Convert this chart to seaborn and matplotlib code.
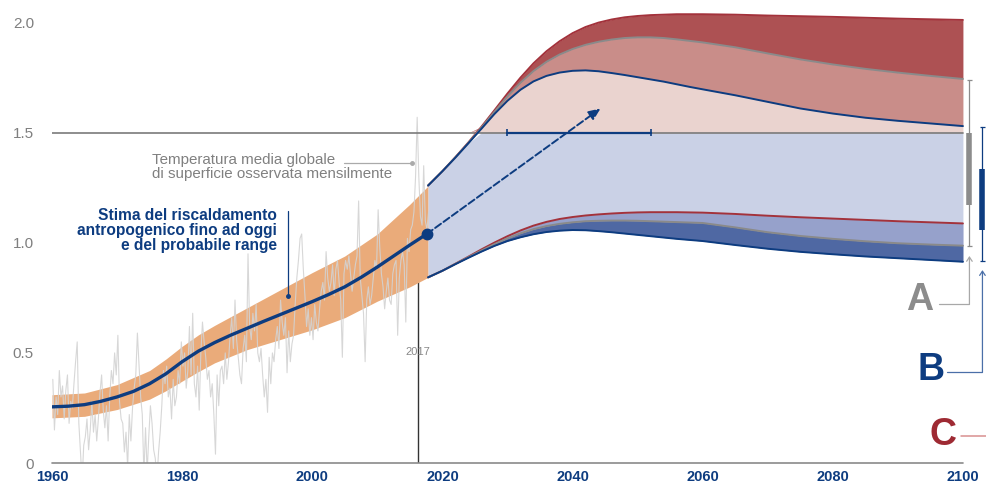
import numpy as np
import pandas as pd
import seaborn as sns
import matplotlib.pyplot as plt

sns.set_style("white")
plt.rcParams['font.family'] = ['Liberation Sans', 'DejaVu Sans']

navy = "#0d3c80"
grey_txt = "#7f7f7f"

# observed monthly GMST (read every 3 months), 1960-2017
obs_vals = [
    0.38, 0.15, 0.30, 0.22, 0.42, 0.30, 0.35, 0.20, 0.33, 0.40, 0.18, 0.28,
    0.25, 0.36, 0.46, 0.55, 0.18, 0.05, -0.08, 0.08, 0.12, 0.20, 0.06, 0.15,
    0.28, 0.14, 0.22, 0.10, 0.20, 0.32, 0.40, 0.24, 0.16, 0.26, 0.10, 0.30,
    0.42, 0.36, 0.50, 0.40, 0.58, 0.28, 0.20, 0.18, 0.05, 0.14, -0.02, 0.22,
    0.10, 0.25, 0.34, 0.40, 0.59, 0.44, 0.30, 0.22, -0.05, 0.16, -0.04, 0.12,
    0.26, 0.18, 0.06, 0.02, -0.08, 0.05, 0.14, 0.26, 0.42, 0.36, 0.44, 0.30,
    0.34, 0.20, 0.38, 0.26, 0.30, 0.42, 0.36, 0.55, 0.44, 0.50, 0.34, 0.42,
    0.62, 0.40, 0.68, 0.36, 0.30, 0.44, 0.24, 0.50, 0.64, 0.55, 0.48, 0.38,
    0.42, 0.30, 0.36, 0.22, 0.04, 0.40, 0.26, 0.42, 0.44, 0.36, 0.50, 0.38,
    0.46, 0.58, 0.66, 0.52, 0.74, 0.56, 0.48, 0.40, 0.36, 0.52, 0.58, 0.46,
    0.95, 0.62, 0.56, 0.68, 0.60, 0.72, 0.50, 0.46, 0.52, 0.40, 0.30, 0.38,
    0.23, 0.48, 0.36, 0.50, 0.46, 0.56, 0.62, 0.52, 0.74, 0.64, 0.58, 0.66,
    0.41, 0.60, 0.46, 0.54, 0.58, 0.72, 0.84, 0.92, 1.02, 1.04, 0.88, 0.76,
    0.62, 0.70, 0.58, 0.66, 0.56, 0.72, 0.64, 0.60, 0.70, 0.78, 0.82, 0.74,
    0.96, 0.84, 0.78, 0.82, 0.90, 0.76, 0.88, 0.92, 0.82, 0.74, 0.48, 0.86,
    0.92, 0.88, 0.94, 0.86, 0.78, 0.84, 0.90, 0.94, 1.19, 0.84, 0.76, 0.68,
    0.46, 0.74, 0.80, 0.72, 0.76, 0.84, 0.92, 0.88, 1.15, 0.98, 0.86, 0.80,
    0.70, 0.78, 0.84, 0.74, 0.72, 0.86, 0.90, 0.92, 0.58, 0.84, 0.92, 0.96,
    0.90, 0.64, 1.02, 0.96, 1.06, 1.08, 1.14, 1.30, 1.57, 1.30, 1.12, 1.08,
    1.35, 1.10, 1.06, 1.14,
]
obs_years = np.arange(1960, 2018, 0.25)[:len(obs_vals)] + 0.125

# human-induced warming estimate and likely range
est_years = [1960, 1962.5, 1965, 1967.5, 1970, 1972.5, 1975, 1977.5, 1980, 1982.5,
             1985, 1987.5, 1990, 1992.5, 1995, 1997.5, 2000, 2002.5, 2005, 2007.5,
             2010, 2012.5, 2015, 2017.6]
est_vals = [0.255, 0.258, 0.265, 0.28, 0.30, 0.325, 0.36, 0.405, 0.46, 0.508,
            0.547, 0.581, 0.612, 0.643, 0.673, 0.703, 0.733, 0.765, 0.80, 0.843,
            0.89, 0.94, 0.99, 1.04]
band_years = [1960, 1965, 1970, 1975, 1977.5, 1980, 1982.5, 1985, 1990, 1995, 2000,
              2005, 2010, 2015, 2017.8]
band_hi = [0.31, 0.318, 0.356, 0.42, 0.472, 0.53, 0.582, 0.625, 0.705, 0.785, 0.865,
           0.94, 1.04, 1.175, 1.258]
band_lo = [0.205, 0.212, 0.243, 0.29, 0.328, 0.372, 0.415, 0.455, 0.515, 0.56, 0.605,
           0.66, 0.735, 0.80, 0.843]

# projected pathways
fut_years = [2017.8, 2020, 2022, 2024, 2026, 2028, 2030, 2032, 2034, 2036, 2038, 2040,
             2042, 2044, 2046, 2048, 2050, 2052, 2054, 2056, 2058, 2060,
             2065, 2070, 2075, 2080, 2085, 2090, 2095, 2100]
b_hi = [1.26, 1.325, 1.387, 1.452, 1.518, 1.585, 1.645, 1.695, 1.733, 1.758, 1.773, 1.781,
        1.783, 1.779, 1.771, 1.762, 1.752, 1.742, 1.732, 1.72, 1.708, 1.697,
        1.67, 1.64, 1.61, 1.587, 1.568, 1.554, 1.542, 1.53]
a_hi = [1.26, 1.325, 1.388, 1.454, 1.523, 1.595, 1.665, 1.727, 1.78, 1.822, 1.855, 1.88,
        1.899, 1.913, 1.923, 1.93, 1.933, 1.933, 1.93, 1.924, 1.917, 1.91,
        1.888, 1.86, 1.833, 1.81, 1.79, 1.773, 1.758, 1.744]
c_hi = [1.26, 1.325, 1.389, 1.456, 1.527, 1.602, 1.678, 1.75, 1.815, 1.87, 1.915, 1.952,
        1.98, 2.0, 2.014, 2.024, 2.03, 2.034, 2.036, 2.038, 2.038, 2.038,
        2.036, 2.032, 2.029, 2.026, 2.022, 2.018, 2.015, 2.012]
b_lo = [0.843, 0.873, 0.903, 0.932, 0.96, 0.986, 1.008, 1.025, 1.039, 1.049, 1.055, 1.058,
        1.057, 1.053, 1.048, 1.042, 1.036, 1.03, 1.024, 1.018, 1.013, 1.008,
        0.99, 0.973, 0.959, 0.948, 0.938, 0.93, 0.922, 0.914]
a_lo = [0.843, 0.873, 0.904, 0.935, 0.965, 0.994, 1.02, 1.043, 1.062, 1.076, 1.086, 1.093,
        1.098, 1.1, 1.101, 1.101, 1.1, 1.098, 1.096, 1.094, 1.092, 1.09,
        1.07, 1.048, 1.031, 1.018, 1.007, 0.998, 0.992, 0.987]
c_lo = [0.843, 0.873, 0.905, 0.937, 0.97, 1.001, 1.03, 1.056, 1.078, 1.095, 1.108, 1.117,
        1.124, 1.129, 1.133, 1.136, 1.138, 1.139, 1.139, 1.139, 1.138, 1.137,
        1.131, 1.123, 1.116, 1.11, 1.104, 1.098, 1.093, 1.088]

# ranges shown at the right (whisker low, box low, box high, whisker high)
range_a = [0.985, 1.17, 1.5, 1.74]
range_b = [0.918, 1.06, 1.336, 1.525]
cross_15 = [2030, 2052]

fig = plt.figure(figsize=(9.87, 4.86), dpi=100)
ax = fig.add_axes([52 / 987, 23 / 486, 1 - 52 / 987, 463 / 486])

fy = np.array(fut_years)
bh, ah, ch = np.array(b_hi), np.array(a_hi), np.array(c_hi)
bl, al, cl = np.array(b_lo), np.array(a_lo), np.array(c_lo)

ax.vlines(2016.2, 0, 1.0, color="#333333", lw=1, zorder=1)
ax.fill_between(band_years, band_lo, band_hi, color="#eaab7a", lw=0, zorder=2)
sns.lineplot(x=obs_years, y=obs_vals, ax=ax, color="#d3d3d3", lw=0.8, alpha=0.9, zorder=3)

ax.fill_between(fy, bl, np.minimum(bh, 1.5), color="#cad1e6", lw=0, zorder=2)
ax.fill_between(fy, 1.5, np.maximum(bh, 1.5), color="#ead3cf", lw=0, zorder=2)
ax.fill_between(fy, np.maximum(bh, 1.5), np.maximum(ah, 1.5), color="#c98d89", lw=0, zorder=2)
ax.fill_between(fy, np.maximum(ah, 1.5), np.maximum(ch, 1.5), color="#ad5153", lw=0, zorder=2)
ax.fill_between(fy, cl, al, color="#96a1cb", lw=0, zorder=2)
ax.fill_between(fy, al, bl, color="#4f68a3", lw=0, zorder=2)

ax.plot([1960, 2100], [1.5, 1.5], color="#7a7a7a", lw=1.2, zorder=3)
for vals, col in [(c_hi, "#a3323b"), (a_hi, "#8a8a8a"), (b_hi, navy),
                  (c_lo, "#a3323b"), (a_lo, "#8a8a8a"), (b_lo, navy)]:
    sns.lineplot(x=fut_years, y=vals, ax=ax, color=col, lw=1.4, zorder=4)

sns.lineplot(x=est_years, y=est_vals, ax=ax, color=navy, lw=2.4, zorder=5)
ax.plot(est_years[-1], est_vals[-1], "o", color=navy, ms=7.5, zorder=6)

ax.annotate("", xy=(2044.3, 1.61), xytext=(est_years[-1], est_vals[-1]),
            arrowprops=dict(arrowstyle="-|>,head_length=0.7,head_width=0.3", ls="--",
                            lw=1.4, color=navy, shrinkA=0, shrinkB=0), zorder=6)

ax.plot(cross_15, [1.5, 1.5], color=navy, lw=1.6, zorder=5)
ax.vlines(cross_15, 1.485, 1.515, color=navy, lw=1.2, zorder=5)

# axis baseline
ax.plot([1960, 2100], [0, 0], color="#8a8a8a", lw=1.2, clip_on=False, zorder=4)

ax.text(2016.25, 0.505, "2017", fontsize=8, color="#888888", ha="center", va="center", zorder=6)

ax.text(1975.4, 1.345, "Temperatura media globale\ndi superficie osservata mensilmente",
        fontsize=10.9, color="#808080", ha="left", va="center", linespacing=1.0, zorder=6)
ax.plot([2004.9, 2015.3], [1.362, 1.362], color="#aaaaaa", lw=0.9, zorder=6)
ax.plot(2015.3, 1.362, "o", color="#aaaaaa", ms=2.5, zorder=6)

ax.text(1994.6, 1.058, "Stima del riscaldamento\nantropogenico fino ad oggi\ne del probabile range",
        fontsize=11.2, fontweight="bold", color=navy, ha="right", va="center",
        linespacing=1.0, zorder=6)
ax.plot([1996.3, 1996.3], [1.144, 0.758], color=navy, lw=0.9, zorder=6)
ax.plot(1996.3, 0.758, "o", color=navy, ms=2.5, zorder=6)

# right-hand ranges and labels
for xr, rng, col in [(2101.0, range_a, "#8c8c8c"), (2103.0, range_b, navy)]:
    ax.plot([xr, xr], [rng[0], rng[3]], color=col, lw=0.9, clip_on=False, zorder=5)
    ax.hlines([rng[0], rng[3]], xr - 0.4, xr + 0.4, color=col, lw=0.9, clip_on=False, zorder=5)
    ax.plot([xr, xr], [rng[1], rng[2]], color=col, lw=4, solid_capstyle="butt",
            clip_on=False, zorder=5)

for xr, tip, elbow, xl, col in [(2101.0, 0.94, 0.722, 2096.3, "#a8a8a8"),
                                (2103.0, 0.876, 0.413, 2097.5, "#4a6fa8")]:
    ax.annotate("", xy=(xr, tip), xytext=(xr, elbow),
                arrowprops=dict(arrowstyle="->,head_length=0.3,head_width=0.2",
                                lw=0.9, color=col, shrinkA=0, shrinkB=0))
    ax.plot([xl, xr], [elbow, elbow], color=col, lw=0.9)

ax.text(2093.3, 0.742, "A", fontsize=27, fontweight="bold", color="#8c8c8c",
        ha="center", va="center")
ax.text(2095.1, 0.422, "B", fontsize=27, fontweight="bold", color=navy,
        ha="center", va="center")
ax.text(2096.9, 0.125, "C", fontsize=27, fontweight="bold", color="#9e2a33",
        ha="center", va="center")
ax.plot([2099.7, 2103.7], [0.123, 0.123], color="#d89090", lw=1.1)

ax.set_xlim(1960, 2103.7)
ax.set_ylim(0, 2.1026)
ax.set_xticks(range(1960, 2101, 20))
ax.set_xticklabels([str(y) for y in range(1960, 2101, 20)], fontsize=10.5,
                   fontweight="bold", color=navy)
ax.set_yticks([0, 0.5, 1.0, 1.5, 2.0])
ax.set_yticklabels(["0", "0.5", "1.0", "1.5", "2.0"], fontsize=11, color=grey_txt)
ax.tick_params(axis="x", length=0, pad=5)
ax.tick_params(axis="y", length=0, pad=13)
sns.despine(ax=ax, left=True, bottom=True)

fig.savefig("out.png", dpi=100)
